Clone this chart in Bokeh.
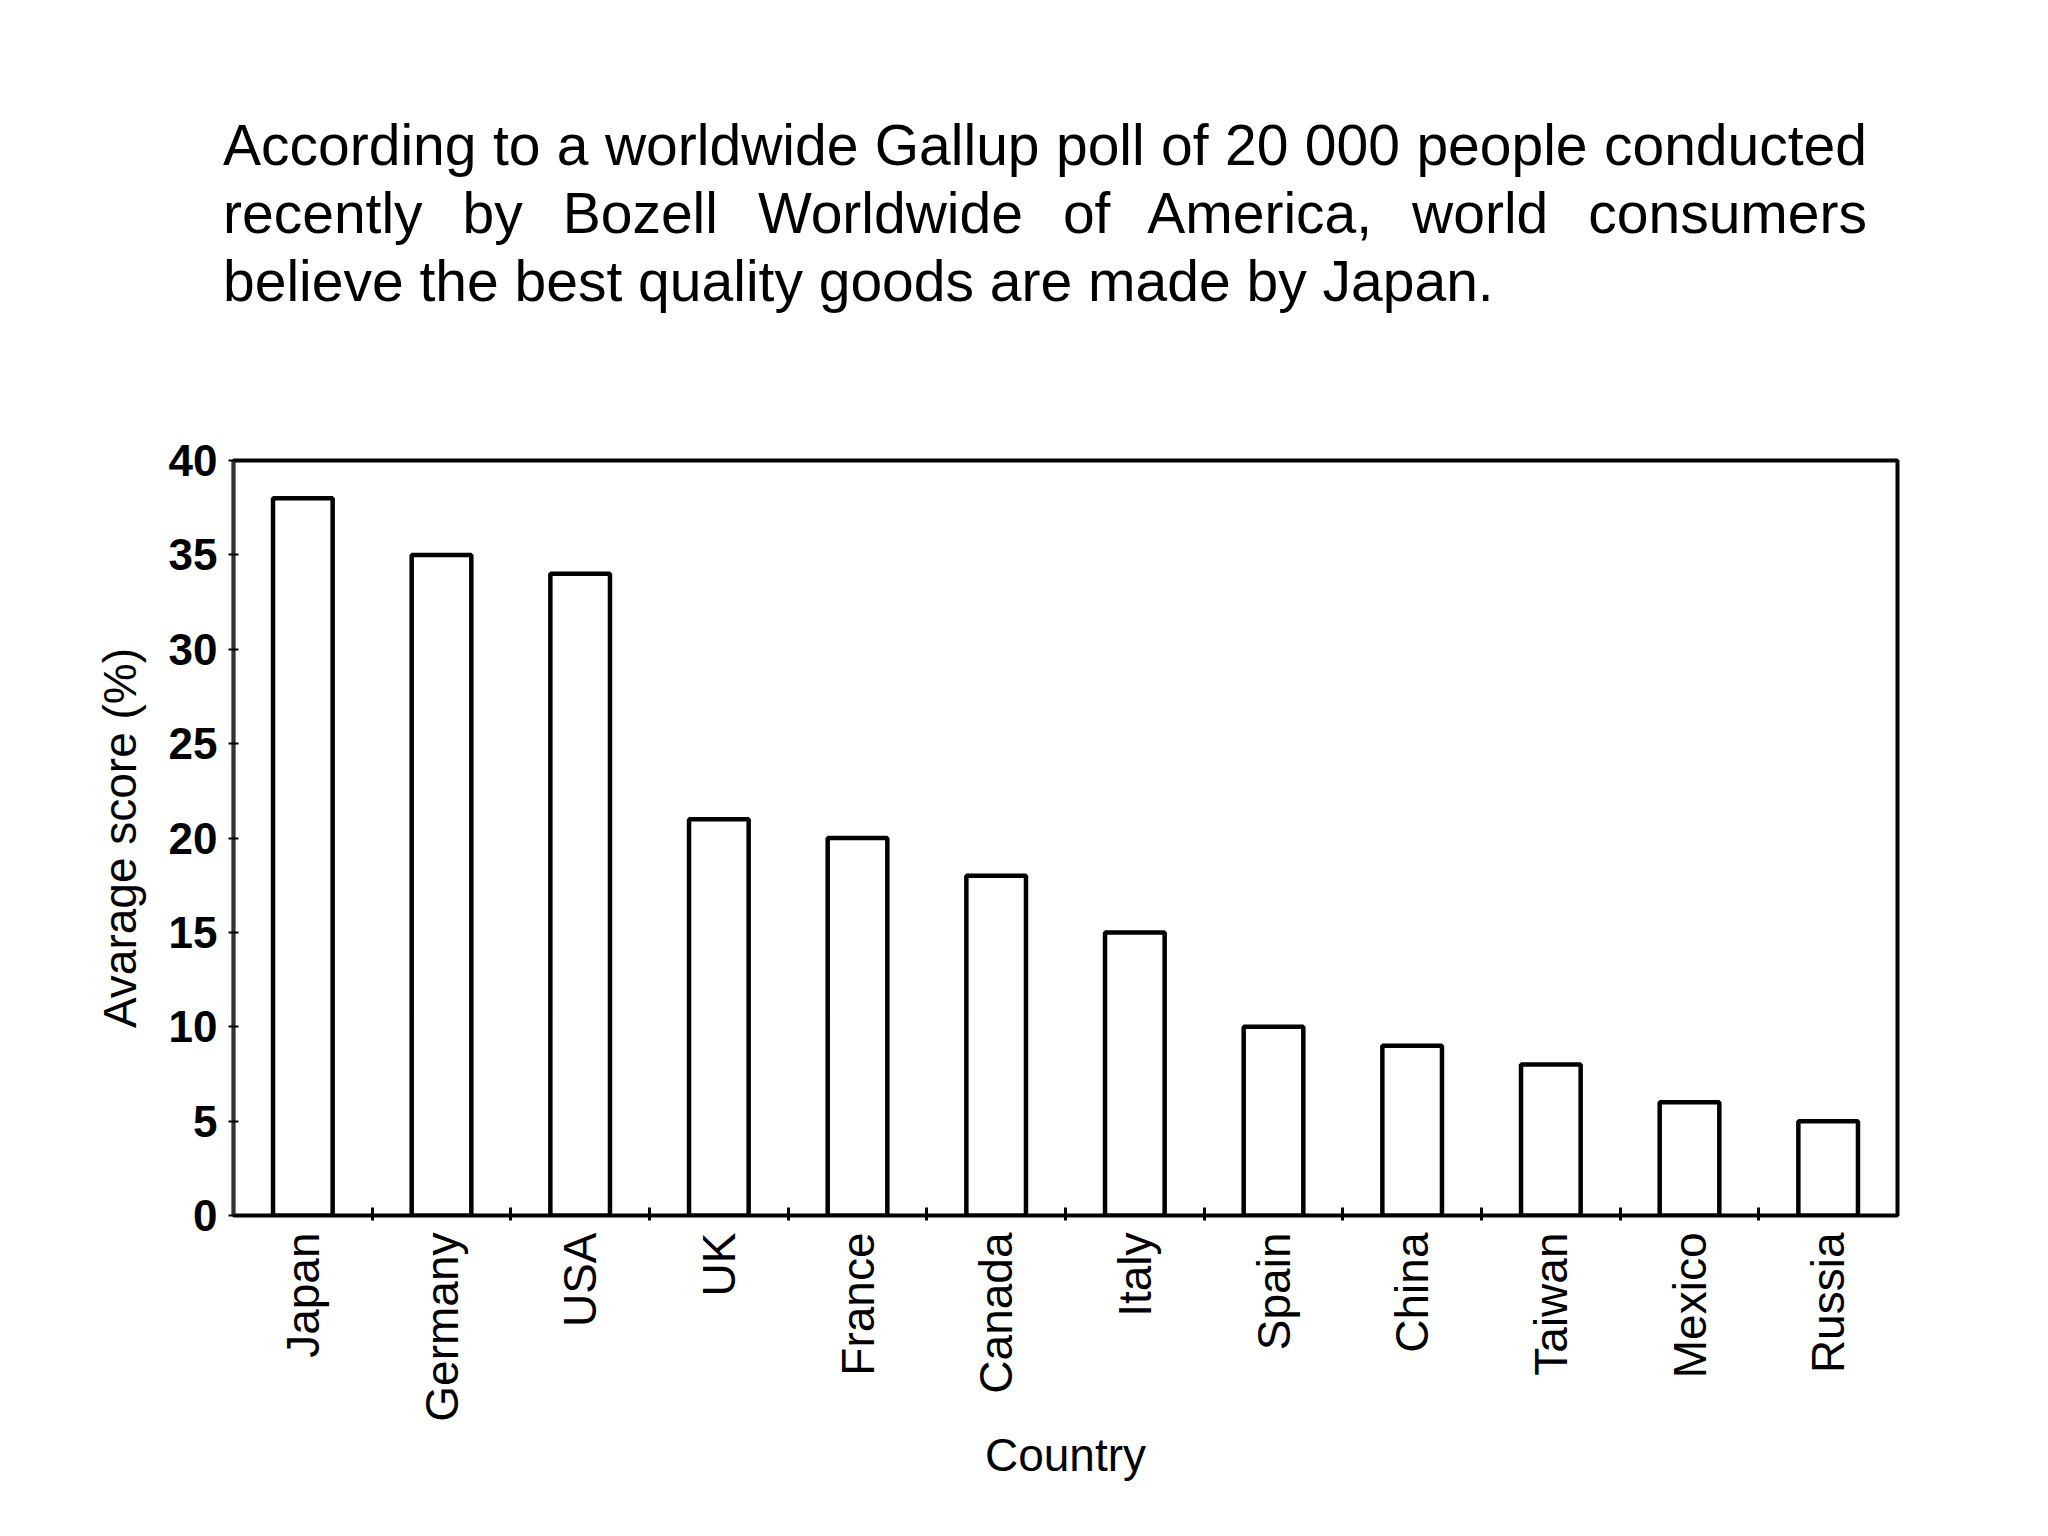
import math
from bokeh.plotting import figure
from bokeh.models import Div, FixedTicker, Range1d, ColumnDataSource
from bokeh.layouts import column
from bokeh.embed import file_html
from bokeh.resources import INLINE

# ---- data ----
title_lines = [
    "According to a worldwide Gallup poll of 20 000 people conducted",
    "recently by Bozell Worldwide of America, world consumers",
    "believe the best quality goods are made by Japan.",
]
countries = ["Japan", "Germany", "USA", "UK", "France", "Canada",
             "Italy", "Spain", "China", "Taiwan", "Mexico", "Russia"]
scores = [38, 35, 34, 21, 20, 18, 15, 10, 9, 8, 6, 5]
y_ticks = [0, 5, 10, 15, 20, 25, 30, 35, 40]
y_label = "Avarage score (%)"
x_label = "Country"

# ---- title block (justified paragraph) ----
FONT = "'Liberation Sans', Arial, Helvetica, sans-serif"
inner = ""
for i, line in enumerate(title_lines):
    last = "justify" if i < len(title_lines) - 1 else "left"
    inner += (f'<div style="text-align:justify;text-align-last:{last};">'
              f'{line}</div>')
html = (f'<div style="padding:106px 0 0 218px;">'
        f'<div style="width:1644px;font-family:{FONT};font-size:57px;'
        f'line-height:68px;color:#000;">{inner}</div></div>')
title_div = Div(text=html, width=2032, height=380)

# ---- chart ----
n = len(countries)
x_centers = [i + 0.5 for i in range(n)]
boundaries = list(range(1, n))
src = ColumnDataSource(dict(x=x_centers, top=scores, name=countries))

p = figure(frame_width=1664, frame_height=755,
           x_range=Range1d(0, n), y_range=Range1d(0, 40),
           output_backend="svg", toolbar_location=None,
           min_border_left=233, min_border_top=70,
           min_border_bottom=300, min_border_right=60,
           background_fill_color="white", border_fill_color="white")

p.vbar(x="x", top="top", width=0.43, source=src,
       fill_color="white", line_color="black", line_width=4.5)

p.grid.visible = False
p.outline_line_color = "black"
p.outline_line_width = 4

# x axis
xa = p.xaxis[0]
xa.ticker = FixedTicker(ticks=x_centers, minor_ticks=boundaries)
xa.major_label_overrides = {x: c for x, c in zip(x_centers, countries)}
xa.major_tick_line_color = None
xa.major_tick_in = 0
xa.major_tick_out = 0
xa.minor_tick_line_color = "black"
xa.minor_tick_line_width = 3
xa.minor_tick_in = 8
xa.minor_tick_out = 5
xa.major_label_orientation = math.pi / 2
xa.major_label_standoff = 12
xa.major_label_text_font = FONT
xa.major_label_text_font_size = "46px"
xa.major_label_text_color = "black"
xa.axis_line_color = "black"
xa.axis_line_width = 3
xa.axis_label = x_label
xa.axis_label_text_font = FONT
xa.axis_label_text_font_size = "46px"
xa.axis_label_text_font_style = "normal"
xa.axis_label_text_color = "black"
xa.axis_label_standoff = 4

# y axis
ya = p.yaxis[0]
ya.ticker = FixedTicker(ticks=y_ticks)
ya.minor_tick_line_color = None
ya.major_tick_line_color = "black"
ya.major_tick_line_width = 2
ya.major_tick_in = 5
ya.major_tick_out = 5
ya.major_label_standoff = 11
ya.major_label_text_font = FONT
ya.major_label_text_font_size = "44px"
ya.major_label_text_font_style = "bold"
ya.major_label_text_color = "black"
ya.axis_line_color = "#333333"
ya.axis_line_width = 3
ya.axis_label = y_label
ya.axis_label_text_font = FONT
ya.axis_label_text_font_size = "46px"
ya.axis_label_text_font_style = "normal"
ya.axis_label_text_color = "black"
ya.axis_label_standoff = 20

layout = column(title_div, p)
open("out.html", "w").write(file_html(layout, INLINE))
